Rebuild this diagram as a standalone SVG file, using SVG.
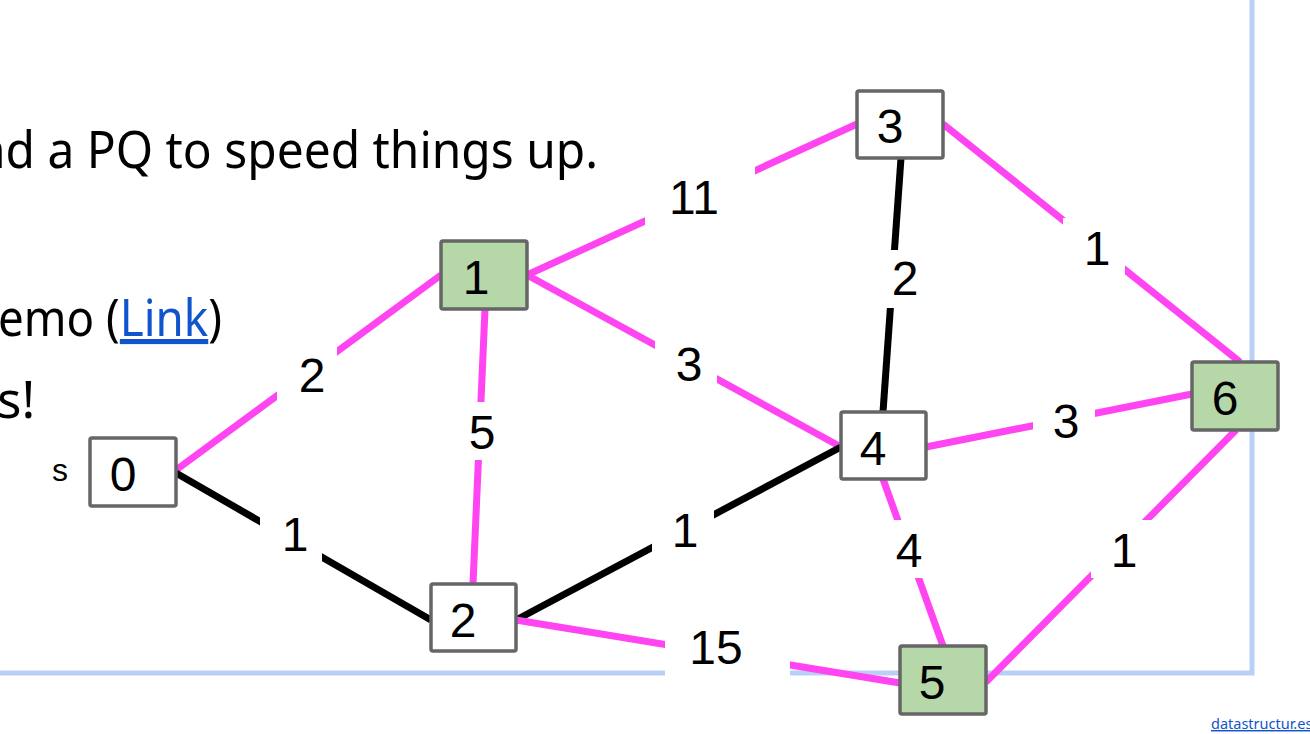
<svg xmlns="http://www.w3.org/2000/svg" width="1310" height="734" viewBox="0 0 1310 734">
<style>
.node rect{stroke:#666666;stroke-width:3.5;fill:#ffffff}
.node.done rect{fill:#b6d7a8}
.node text,.lbl text{font-family:"Liberation Sans",Arial,sans-serif;font-size:48px;fill:#000;text-anchor:middle}
.e{stroke-width:7;fill:none;stroke-linecap:butt}
.m{stroke:#ff44f2}
.k{stroke:#000000}
.lbl rect{fill:#ffffff;stroke:none}
.body{font-family:"Noto Sans","Open Sans",sans-serif;font-size:51px;fill:#000}
.frame{stroke:#b9cff5;stroke-width:5;fill:none}
</style>
<rect width="1310" height="734" fill="#ffffff"/>
<g id="text">
<text class="body" x="-24" y="168" textLength="622" lengthAdjust="spacingAndGlyphs">nd a PQ to speed things up.</text>
<text class="body" x="-2" y="336" textLength="224" lengthAdjust="spacingAndGlyphs">emo (<tspan fill="#1155cc" text-decoration="underline">Link</tspan>)</text>
<text class="body" x="-3" y="418">s!</text>
<text x="60" y="481" font-family="Liberation Sans,Arial,sans-serif" font-size="32" fill="#000" text-anchor="middle">s</text>
<text x="1211" y="729" font-family="Noto Sans,Open Sans,sans-serif" font-size="14.5" fill="#1155cc" text-decoration="underline">datastructur.es</text>
</g>
<path class="frame" d="M1252 0 V673 H0"/>
<g id="connectors">
<line class="e m" x1="176" y1="470" x2="441" y2="275"/>
<line class="e k" x1="176" y1="473" x2="431" y2="620"/>
<line class="e m" x1="485" y1="309" x2="473" y2="584"/>
<line class="e m" x1="527" y1="275" x2="857" y2="124"/>
<line class="e m" x1="527" y1="275" x2="841" y2="447"/>
<line class="e k" x1="516" y1="620" x2="841" y2="447"/>
<line class="e m" x1="516" y1="620" x2="900" y2="683"/>
<line class="e k" x1="901" y1="158" x2="883" y2="412"/>
<line class="e m" x1="943" y1="124" x2="1240" y2="362"/>
<line class="e m" x1="926" y1="447" x2="1192" y2="394"/>
<line class="e m" x1="883" y1="479" x2="943" y2="646"/>
<line class="e m" x1="1236" y1="430" x2="986" y2="682"/>
<g class="lbl">
<rect x="277" y="346" width="60" height="58"/><text x="312" y="392">2</text>
<rect x="260" y="505" width="62" height="58"/><text x="295" y="551">1</text>
<rect x="452" y="402" width="60" height="58"/><text x="482" y="449">5</text>
<rect x="645" y="166" width="110" height="62"/><text x="694" y="214">11</text>
<rect x="655" y="336" width="62" height="58"/><text x="689" y="381">3</text>
<rect x="652" y="500" width="62" height="58"/><text x="685" y="547">1</text>
<rect x="665" y="615" width="125" height="61"/><text x="716" y="664">15</text>
<rect x="876" y="250" width="60" height="58"/><text x="905" y="295">2</text>
<rect x="1063" y="218" width="62" height="58"/><text x="1097" y="265">1</text>
<rect x="1033" y="392" width="62" height="58"/><text x="1066" y="438">3</text>
<rect x="878" y="520" width="62" height="58"/><text x="909" y="567">4</text>
<rect x="1091" y="520" width="62" height="58"/><text x="1124" y="567">1</text>
</g>
</g>
<g id="node0" class="node"><rect x="90" y="438" width="86" height="68" rx="2"/><text x="123" y="491">0</text></g>
<g id="node1" class="node done"><rect x="441" y="241" width="86" height="68" rx="2"/><text x="476" y="294">1</text></g>
<g id="node2" class="node"><rect x="431" y="584" width="85" height="67" rx="2"/><text x="463" y="637">2</text></g>
<g id="node3" class="node"><rect x="857" y="91" width="86" height="67" rx="2"/><text x="890" y="143">3</text></g>
<g id="node4" class="node"><rect x="841" y="412" width="85" height="67" rx="2"/><text x="873" y="465">4</text></g>
<g id="node5" class="node done"><rect x="900" y="646" width="86" height="68" rx="2"/><text x="932" y="699">5</text></g>
<g id="node6" class="node done"><rect x="1192" y="362" width="86" height="68" rx="2"/><text x="1225" y="415">6</text></g>
</svg>
